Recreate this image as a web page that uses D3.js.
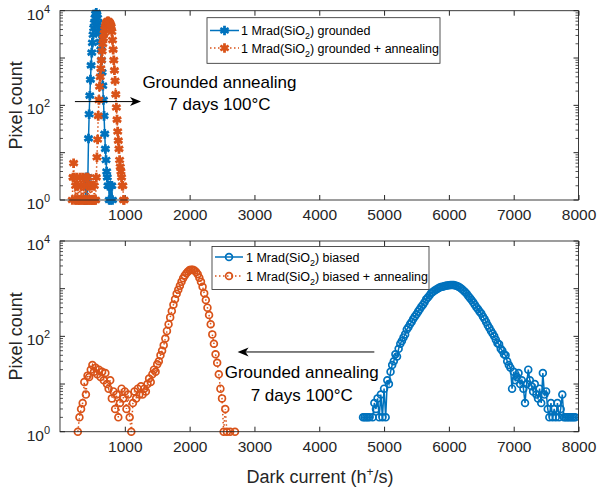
<!DOCTYPE html>
<html>
<head>
<meta charset="utf-8">
<script src="https://cdn.jsdelivr.net/npm/d3@7"></script>
<style>
body { margin: 0; background: #fff; }
svg { font-family: "Liberation Sans", Arial, Helvetica, sans-serif; }
</style>
</head>
<body>
<svg id="chart" width="598" height="493"></svg>
<script>
// dark current histograms: [bin (h+/s), pixel count]
const topGrounded = [
  [380,1],[390,1],[400,3],[410,3],[420,1],[430,3],[440,20],[450,65],[460,160],[470,350],
  [480,700],[490,1300],[500,2100],[510,3100],[520,4300],[530,5500],[540,7000],[550,8500],
  [560,9000],[570,8200],[580,7000],[590,5500],[600,4200],[610,3300],[620,2200],[630,1500],
  [640,900],[650,500],[660,260],[670,130],[680,60],[690,25],[700,12],[710,7],[720,4],
  [730,3],[740,2],[750,2],[760,1],[770,2],[780,1],[790,2],[800,2],[810,1]
];
const topAnnealed = [
  [190,1],[200,3],[210,6],[220,3],[230,1],[240,2],[250,1],[260,3],[270,1],[280,2],[290,1],
  [300,1],[310,3],[320,1],[330,2],[340,1],[350,3],[360,1],[370,2],[380,1],[390,1],[400,3],
  [410,1],[420,2],[430,3],[440,1],[450,1],[460,2],[470,1],[480,1],[490,2],[500,1],[510,1],
  [520,1],[530,2],[540,1],[550,1],[560,3],[570,8],[580,19],[590,60],[600,130],[610,250],
  [620,400],[630,600],[640,900],[650,1400],[660,2000],[670,2600],[680,3300],[690,4000],
  [700,4600],[710,5200],[720,5700],[730,5900],[740,6000],[750,5900],[760,5700],[770,5400],
  [780,5000],[790,4600],[800,3600],[810,2400],[820,1500],[830,900],[840,550],[850,330],
  [860,170],[870,90],[880,50],[890,28],[900,18],[910,12],[920,7],[930,5],[940,4],[950,3],
  [960,2],[970,2],[980,1],[990,1]
];
const botBiased = [
  [4675,2],[4700,2],[4725,2],[4750,2],[4775,2],[4825,2],[4850,4],[4875,3],[4900,5],[4925,2],
  [4950,6],[4975,2],[5000,8],[5025,2],[5050,12],[5075,10],[5100,18],[5125,25],[5150,30],
  [5175,42],[5200,38],[5225,55],[5250,70],[5275,80],[5300,95],[5325,110],[5350,140],
  [5375,155],[5400,180],[5425,200],[5450,230],[5475,260],[5500,290],[5525,330],[5550,370],
  [5575,420],[5600,460],[5625,520],[5650,600],[5675,650],[5700,720],[5725,800],[5750,850],
  [5775,900],[5800,950],[5825,1000],[5850,1040],[5875,1080],[5900,1100],[5925,1120],
  [5950,1150],[5975,1170],[6000,1180],[6025,1200],[6050,1200],[6075,1190],[6100,1170],
  [6125,1140],[6150,1100],[6175,1050],[6200,990],[6225,920],[6250,850],[6275,780],
  [6300,700],[6325,640],[6350,580],[6375,520],[6400,460],[6425,410],[6450,370],[6475,330],
  [6500,300],[6525,260],[6550,230],[6575,200],[6600,170],[6625,150],[6650,130],[6675,115],
  [6700,100],[6725,85],[6750,72],[6775,68],[6800,55],[6825,50],[6850,42],[6875,40],
  [6900,30],[6925,25],[6950,22],[6975,8],[7000,18],[7025,12],[7050,14],[7075,17],[7100,10],
  [7125,12],[7150,8],[7175,4],[7200,10],[7225,20],[7250,12],[7275,9],[7300,7],[7325,10],
  [7350,6],[7375,5],[7400,8],[7425,4],[7450,17],[7475,6],[7500,7],[7525,3],[7550,2],
  [7575,4],[7600,2],[7625,3],[7650,2],[7675,4],[7700,2],[7725,3],[7750,6],[7775,2],
  [7800,2],[7825,2],[7850,2],[7875,2],[7900,2],[7925,2],[7950,2]
];
const botAnnealed = [
  [275,1],[300,2],[325,3],[350,4],[375,11],[400,6],[425,15],[450,14],[475,20],[500,25],
  [525,18],[550,22],[575,16],[600,20],[625,14],[650,18],[675,12],[700,17],[725,10],[750,8],
  [775,12],[800,5],[825,7],[850,3],[875,6],[900,2],[925,4],[950,8],[975,5],[1000,7],
  [1025,3],[1050,6],[1075,2],[1100,1],[1125,4],[1150,7],[1175,5],[1200,8],[1225,6],
  [1250,9],[1275,6],[1300,8],[1325,7],[1350,10],[1375,13],[1400,11],[1425,16],[1450,20],
  [1475,18],[1500,26],[1525,30],[1550,40],[1575,50],[1600,65],[1625,90],[1650,130],
  [1675,180],[1700,250],[1725,340],[1750,460],[1775,600],[1800,780],[1825,950],[1850,1150],
  [1875,1400],[1900,1650],[1925,1900],[1950,2100],[1975,2300],[2000,2450],[2025,2500],
  [2050,2500],[2075,2400],[2100,2250],[2125,2000],[2150,1700],[2175,1400],[2200,1100],
  [2225,800],[2250,580],[2275,400],[2300,280],[2325,180],[2350,110],[2375,70],[2400,42],
  [2425,28],[2450,16],[2475,8],[2500,5],[2525,1],[2550,3],[2575,1],[2625,1],[2700,1]
];

const X_TICKS = [1000, 2000, 3000, 4000, 5000, 6000, 7000, 8000];
const Y_LABELED = [1, 100, 10000];
const BLUE = "#0072BD", ORANGE = "#D95319", AX = "#262626";

const svg = d3.select("#chart");

const x = d3.scaleLinear().domain([0, 8000]).range([60, 578.5]);

const panels = [
  {
    y0: 10.7, y1: 200,
    series: [
      { data: topGrounded, color: BLUE, dash: null, marker: "star", label: ["1 Mrad(SiO", "2", ") grounded"] },
      { data: topAnnealed, color: ORANGE, dash: "1.5,2.5", marker: "star", label: ["1 Mrad(SiO", "2", ") grounded + annealing"] }
    ],
    legend: { x: 207, y: 17.7, w: 233, h: 45.6, rows: [30.5, 48], lineX: [210, 239], textX: 241 },
    arrow: { from: [230, 120], to: [1250, 120] },
    note: { v: 2460, lines: [[230, "Grounded annealing"], [80, "7 days 100°C"]] }
  },
  {
    y0: 241, y1: 431.7,
    series: [
      { data: botBiased, color: BLUE, dash: null, marker: "circle", label: ["1 Mrad(SiO", "2", ") biased"] },
      { data: botAnnealed, color: ORANGE, dash: "1.5,2.5", marker: "circle", label: ["1 Mrad(SiO", "2", ") biased + annealing"] }
    ],
    legend: { x: 212, y: 246.5, w: 217, h: 43, rows: [257, 276], lineX: [215, 243], textX: 246 },
    arrow: { from: [4850, 47], to: [2740, 47] },
    note: { v: 3730, lines: [[13.5, "Grounded annealing"], [4.5, "7 days 100°C"]] }
  }
];

function drawMarker(sel, kind, color) {
  if (kind === "star") {
    sel.append("path")
      .attr("d", d3.symbol(d3.symbolAsterisk, 64)())
      .attr("fill", "none")
      .attr("stroke", color)
      .attr("stroke-width", 2.8);
  } else {
    sel.append("circle")
      .attr("r", 3.4)
      .attr("fill", "none")
      .attr("stroke", color)
      .attr("stroke-width", 1.7);
  }
}

function arrowHead(g, tip, dir) {
  // MATLAB-style vee head
  const [tx, ty] = tip;
  const L = 11, W = 4.5, N = 8;
  g.append("path")
    .attr("d", `M${tx},${ty} L${tx - dir * L},${ty - W} L${tx - dir * N},${ty} L${tx - dir * L},${ty + W} Z`)
    .attr("fill", "#000");
}

panels.forEach((p, pi) => {
  const y = d3.scaleLog().domain([1, 10000]).range([p.y1, p.y0]);
  const g = svg.append("g");
  const clipId = `clip-${pi}`;

  svg.append("clipPath").attr("id", clipId)
    .append("rect").attr("x", 60).attr("y", p.y0 - 6)
    .attr("width", 518.5).attr("height", p.y1 - p.y0 + 12);

  // box
  g.append("rect")
    .attr("x", 60).attr("y", p.y0)
    .attr("width", 518.5).attr("height", p.y1 - p.y0)
    .attr("fill", "#fff");

  // x ticks bottom + top
  const xb = g.append("g").attr("transform", `translate(0,${p.y1})`)
    .call(d3.axisBottom(x).tickValues(X_TICKS).tickSize(-5).tickPadding(9).tickFormat(d3.format("d")));
  xb.select(".domain").remove();
  xb.selectAll(".tick line").attr("stroke", AX);
  xb.selectAll(".tick text").attr("fill", AX).attr("font-size", "15.5px")
    .attr("font-family", "Liberation Sans, Arial, sans-serif");

  const xt = g.append("g").attr("transform", `translate(0,${p.y0})`)
    .call(d3.axisTop(x).tickValues(X_TICKS).tickSize(-5).tickFormat(""));
  xt.select(".domain").remove();
  xt.selectAll(".tick line").attr("stroke", AX);

  // y ticks: majors labelled, minors on both sides
  const minors = [];
  for (let e = 0; e < 4; e++) for (let m = 2; m <= 9; m++) minors.push(m * Math.pow(10, e));
  const majors = [1, 10, 100, 1000, 10000];
  [[60, 1], [578.5, -1]].forEach(([ax, s]) => {
    g.append("g").selectAll("line").data(majors).join("line")
      .attr("x1", ax).attr("x2", ax + s * 5)
      .attr("y1", d => y(d)).attr("y2", d => y(d))
      .attr("stroke", AX);
    g.append("g").selectAll("line").data(minors).join("line")
      .attr("x1", ax).attr("x2", ax + s * 3)
      .attr("y1", d => y(d)).attr("y2", d => y(d))
      .attr("stroke", AX).attr("stroke-width", 0.8);
  });

  const yl = g.append("g").selectAll("text").data(Y_LABELED).join("text")
    .attr("x", 50).attr("y", d => y(d) + 9)
    .attr("text-anchor", "end").attr("fill", AX).attr("font-size", "15.5px");
  yl.append("tspan").text("10");
  yl.append("tspan").attr("dy", -7).attr("font-size", "11px").text(d => Math.round(Math.log10(d)));

  // y label
  g.append("text")
    .attr("transform", `translate(22,${(p.y0 + p.y1) / 2}) rotate(-90)`)
    .attr("text-anchor", "middle").attr("fill", AX).attr("font-size", "18px")
    .text("Pixel count");

  // series
  const plot = g.append("g").attr("clip-path", `url(#${clipId})`);
  const line = d3.line().x(d => x(d[0])).y(d => y(d[1]));
  p.series.forEach(s => {
    plot.append("path")
      .datum(s.data)
      .attr("d", line)
      .attr("fill", "none")
      .attr("stroke", s.color)
      .attr("stroke-width", 1.5)
      .attr("stroke-dasharray", s.dash);
    plot.append("g").selectAll("g").data(s.data).join("g")
      .attr("transform", d => `translate(${x(d[0])},${y(d[1])})`)
      .each(function () { drawMarker(d3.select(this), s.marker, s.color); });
  });

  // frame on top
  g.append("rect")
    .attr("x", 60).attr("y", p.y0)
    .attr("width", 518.5).attr("height", p.y1 - p.y0)
    .attr("fill", "none").attr("stroke", AX).attr("stroke-width", 0.9);

  // annotation arrow + text
  const a0 = [x(p.arrow.from[0]), y(p.arrow.from[1])];
  const a1 = [x(p.arrow.to[0]), y(p.arrow.to[1])];
  const dir = a1[0] > a0[0] ? 1 : -1;
  g.append("line")
    .attr("x1", a0[0]).attr("y1", a0[1])
    .attr("x2", a1[0] - dir * 8).attr("y2", a1[1])
    .attr("stroke", "#000").attr("stroke-width", 1);
  arrowHead(g, a1, dir);

  p.note.lines.forEach(([cnt, txt]) => {
    g.append("text")
      .attr("x", x(p.note.v)).attr("y", y(cnt))
      .attr("text-anchor", "middle").attr("fill", "#000").attr("font-size", "17px")
      .text(txt);
  });

  // legend
  const L = p.legend;
  const lg = g.append("g");
  lg.append("rect")
    .attr("x", L.x).attr("y", L.y).attr("width", L.w).attr("height", L.h)
    .attr("fill", "#fff").attr("stroke", AX).attr("stroke-width", 0.8);
  p.series.forEach((s, i) => {
    const ry = L.rows[i];
    lg.append("line")
      .attr("x1", L.lineX[0]).attr("x2", L.lineX[1])
      .attr("y1", ry).attr("y2", ry)
      .attr("stroke", s.color).attr("stroke-width", 1.5)
      .attr("stroke-dasharray", s.dash);
    const mg = lg.append("g").attr("transform", `translate(${(L.lineX[0] + L.lineX[1]) / 2},${ry})`);
    drawMarker(mg, s.marker, s.color);
    const t = lg.append("text")
      .attr("x", L.textX).attr("y", ry + 4.5)
      .attr("fill", "#000").attr("font-size", "12.5px");
    t.append("tspan").text(s.label[0]);
    t.append("tspan").attr("dy", 4).attr("font-size", "9px").text(s.label[1]);
    t.append("tspan").attr("dy", -4).text(s.label[2]);
  });
});

// x axis title
const xt = svg.append("text")
  .attr("x", 320).attr("y", 483)
  .attr("text-anchor", "middle").attr("fill", AX).attr("font-size", "18px");
xt.append("tspan").text("Dark current (h");
xt.append("tspan").attr("dy", -7).attr("font-size", "12px").text("+");
xt.append("tspan").attr("dy", 7).text("/s)");
</script>
</body>
</html>
